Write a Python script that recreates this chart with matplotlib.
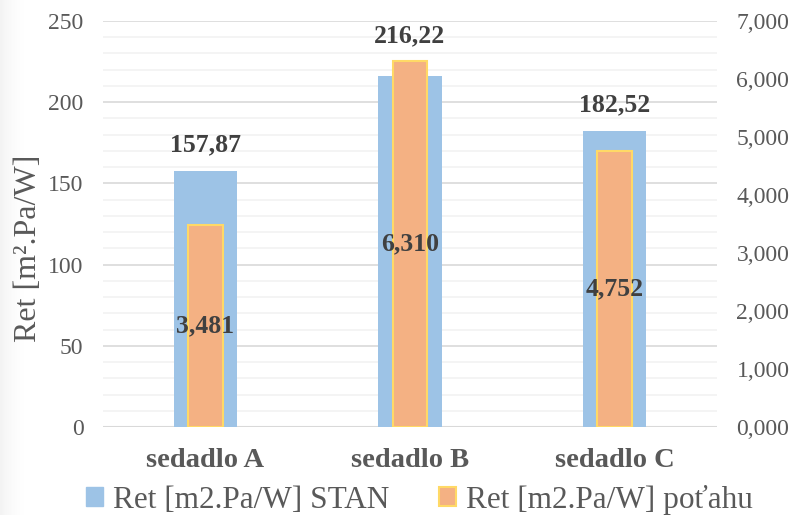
import matplotlib
matplotlib.use('Agg')
import matplotlib.pyplot as plt
import numpy as np
from matplotlib.patches import Patch
from matplotlib.ticker import MultipleLocator, FuncFormatter

# data
categories = ['sedadlo A', 'sedadlo B', 'sedadlo C']
ret_stan = [157.87, 216.22, 182.52]
ret_potahu = [3.481, 6.310, 4.752]
series_names = ['Ret [m2.Pa/W] STAN', 'Ret [m2.Pa/W] poťahu']

blue = '#9DC3E6'
orange = '#F4B183'
yellow = '#FFD966'
grey_txt = '#595959'
dark_txt = '#404040'

plt.rcParams['font.family'] = 'serif'
plt.rcParams['font.serif'] = ['Liberation Serif', 'DejaVu Serif']

fig = plt.figure(figsize=(7.94, 5.15), dpi=100)

# faint shadow along the left edge
bg = fig.add_axes([0, 0, 1, 1], zorder=-5)
bg.axis('off')
grad = np.linspace(1, 0, 30) ** 2
img = np.ones((10, 794, 4))
img[..., :3] = 0.6
img[:, :30, 3] = grad * 0.12
img[:, 30:, 3] = 0
bg.imshow(img, aspect='auto', extent=[0, 1, 0, 1])

ax = fig.add_axes([0.1297, 0.1709, 0.7733, 0.7883])
ax2 = ax.twinx()

x = np.arange(len(categories))
ax.bar(x, ret_stan, width=0.31, color=blue, zorder=2)
ax2.bar(x, ret_potahu, width=0.17, color=orange, edgecolor=yellow, linewidth=1.5, zorder=2)

ax.set_xlim(-0.5, 2.5)
ax.set_ylim(0, 250)
ax2.set_ylim(0, 7)

ax.yaxis.set_major_locator(MultipleLocator(50))
ax.yaxis.set_minor_locator(MultipleLocator(10))
ax.grid(which='major', axis='y', color='#D9D9D9', linewidth=1.2, zorder=0)
ax.grid(which='minor', axis='y', color='#F2F2F2', linewidth=1.2, zorder=0)
ax.set_axisbelow(True)

ax2.yaxis.set_major_locator(MultipleLocator(1))
ax2.yaxis.set_major_formatter(FuncFormatter(lambda v, p: f'{v:.3f}'.replace('.', ',')))

for a in (ax, ax2):
    for s in a.spines.values():
        s.set_visible(False)
    a.tick_params(axis='y', length=0, labelsize=17, labelcolor=grey_txt)
    a.tick_params(which='minor', length=0)
ax.tick_params(axis='y', pad=14)
ax2.tick_params(axis='y', pad=14)

ax.axhline(0, color='#D9D9D9', linewidth=1.5, zorder=1)

ax.set_xticks(x)
ax.set_xticklabels(categories, fontsize=20.5, fontweight='bold', color=grey_txt)
ax.tick_params(axis='x', length=0, pad=15)

ax.set_ylabel('Ret [m².Pa/W]', fontsize=23, color=grey_txt)
ax.yaxis.set_label_coords(-0.097, 0.44)

# value labels: STAN above the taller of the two bars, poťahu centred inside
for i in range(len(categories)):
    top = max(ret_stan[i], ret_potahu[i] / 7 * 250)
    ax.annotate(f'{ret_stan[i]:.2f}'.replace('.', ','), (x[i], top),
                xytext=(0, 10), textcoords='offset points', ha='center', va='bottom',
                fontsize=18.5, fontweight='bold', color=dark_txt, zorder=5)
    ax2.text(x[i], ret_potahu[i] / 2, f'{ret_potahu[i]:.3f}'.replace('.', ','),
             ha='center', va='center', fontsize=18.5, fontweight='bold', color=dark_txt, zorder=5)

handles = [Patch(facecolor=blue, edgecolor=blue),
           Patch(facecolor=orange, edgecolor=yellow, linewidth=1.5)]
fig.legend(handles, series_names, loc='center', bbox_to_anchor=(0.528, 0.03), ncol=2,
           frameon=False, fontsize=22.5, labelcolor=grey_txt, handlelength=0.55,
           handleheight=0.55, handletextpad=0.3, columnspacing=1.6, borderaxespad=0)

fig.savefig('out.png', dpi=100)
